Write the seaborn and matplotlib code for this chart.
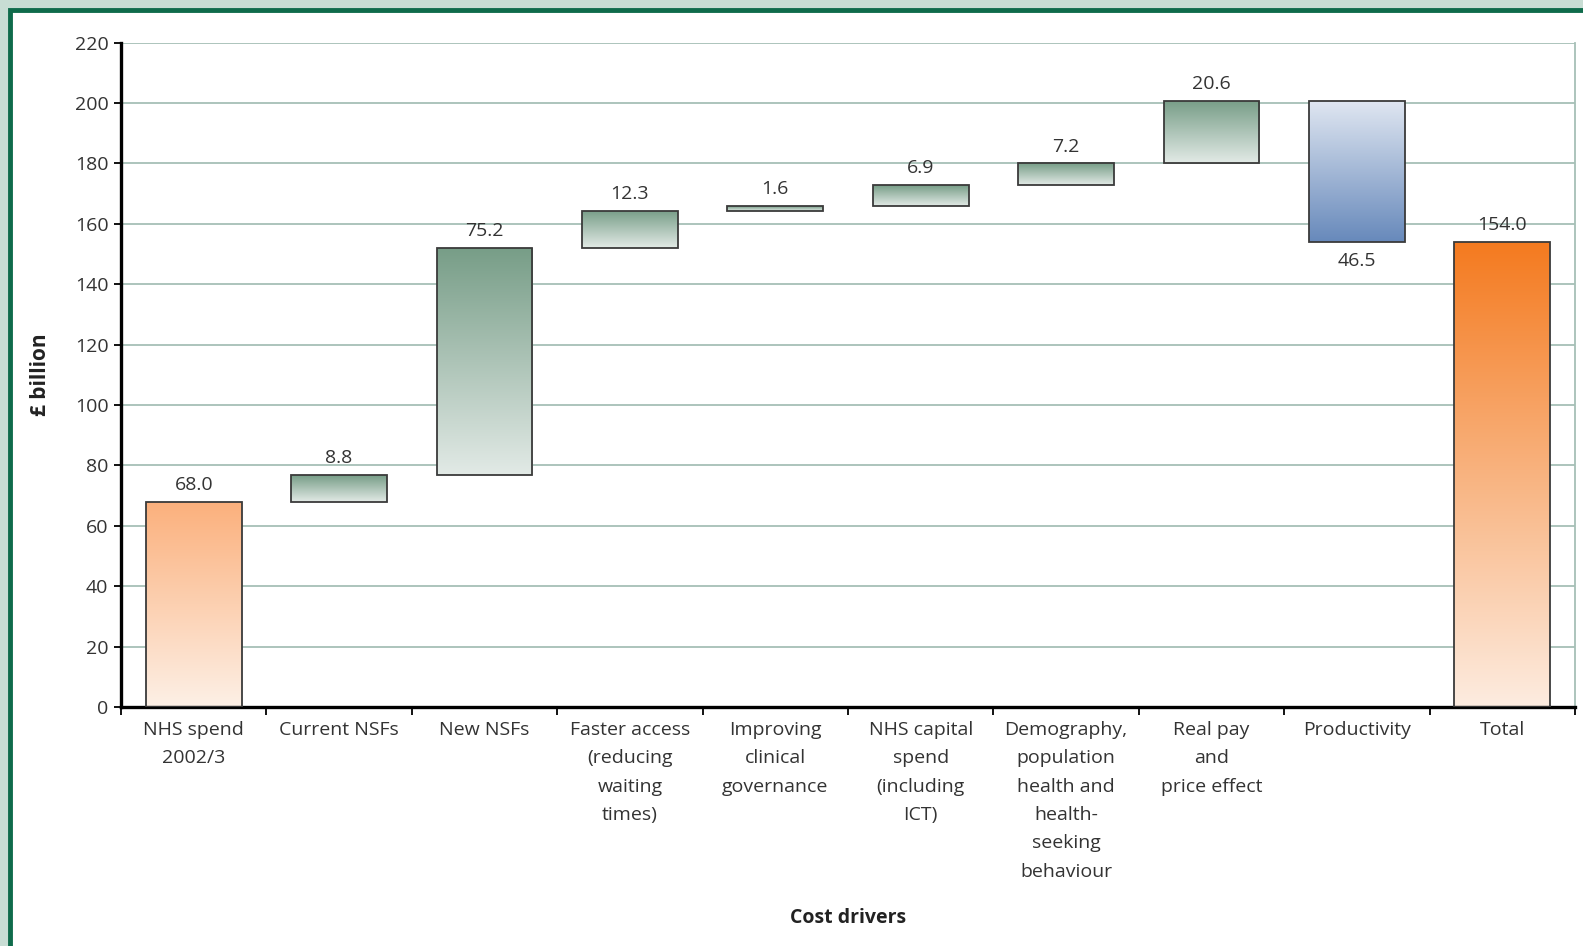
import numpy as np
import pandas as pd
import matplotlib
matplotlib.use("Agg")
import matplotlib.pyplot as plt
from matplotlib.patches import Rectangle
from matplotlib.colors import LinearSegmentedColormap
import seaborn as sns

# ---- data -------------------------------------------------------------
categories = [
    "NHS spend\n2002/3",
    "Current NSFs",
    "New NSFs",
    "Faster access\n(reducing\nwaiting\ntimes)",
    "Improving\nclinical\ngovernance",
    "NHS capital\nspend\n(including\nICT)",
    "Demography,\npopulation\nhealth and\nhealth-\nseeking\nbehaviour",
    "Real pay\nand\nprice effect",
    "Productivity",
    "Total",
]
start_value = 68.0
changes = [8.8, 75.2, 12.3, 1.6, 6.9, 7.2, 20.6, -46.5]
total_value = 154.0
y_ticks = list(range(0, 221, 20))

# ---- waterfall geometry ------------------------------------------------
bottoms, heights, kinds, labels = [0.0], [start_value], ["start"], [start_value]
running = start_value
for c in changes:
    if c >= 0:
        bottoms.append(running)
        heights.append(c)
        kinds.append("up")
    else:
        bottoms.append(running + c)
        heights.append(-c)
        kinds.append("down")
    labels.append(abs(c))
    running += c
bottoms.append(0.0)
heights.append(total_value)
kinds.append("total")
labels.append(total_value)

df = pd.DataFrame({"driver": categories, "height": heights,
                   "bottom": bottoms, "kind": kinds, "label": labels})

gradients = {
    "start": ("#fbb07c", "#fdf0e6"),
    "up": ("#779d87", "#e2eae6"),
    "down": ("#dfe6f1", "#6789bb"),
    "total": ("#f47a1f", "#fdece0"),
}

# ---- figure -----------------------------------------------------------
sns.set_theme(style="white")
plt.rcParams["font.family"] = ["Open Sans", "DejaVu Sans"]

fig = plt.figure(figsize=(15.83, 9.46), dpi=100)
fig.patch.set_facecolor("#c8ddd4")
W, H = 1583, 946
frame = Rectangle((10 / W, -0.1), 1.2, 1 - 10 / H + 0.1,
                  transform=fig.transFigure, facecolor="white",
                  edgecolor="#0f6b4b", linewidth=3.5, zorder=-5)
fig.patches.append(frame)

ax = fig.add_axes([121 / W, 1 - 707 / H, 1454 / W, 664.3 / H])
ax.set_facecolor("none")
ax.set_zorder(2)

sns.barplot(data=df, x="driver", y="height", order=categories, width=0.66,
            color="white", edgecolor="#3a3a3a", linewidth=1.3,
            errorbar=None, ax=ax, zorder=3)

ax.set_xlim(-0.5, len(categories) - 0.5)
ax.set_ylim(0, 220)

for patch, (_, row) in zip(ax.patches, df.iterrows()):
    patch.set_y(row["bottom"])
    patch.set_height(row["height"])
    top_c, bot_c = gradients[row["kind"]]
    cmap = LinearSegmentedColormap.from_list("g", [bot_c, top_c])
    x0 = patch.get_x()
    x1 = x0 + patch.get_width()
    grad = np.linspace(0, 1, 256).reshape(-1, 1)
    im = ax.imshow(grad, cmap=cmap, origin="lower", aspect="auto",
                   extent=[x0, x1, row["bottom"], row["bottom"] + row["height"]],
                   zorder=2.5, interpolation="bicubic")
    im.set_clip_path(patch)
    patch.set_facecolor("none")

    xc = x0 + patch.get_width() / 2
    if row["kind"] == "down":
        ax.text(xc, row["bottom"] - 3.5, f"{row['label']:.1f}", ha="center",
                va="top", fontsize=14, color="#333333")
    else:
        ax.text(xc, row["bottom"] + row["height"] + 2.6, f"{row['label']:.1f}",
                ha="center", va="bottom", fontsize=14, color="#333333")

ax.set_xlim(-0.5, len(categories) - 0.5)
ax.set_ylim(0, 220)

# grid and spines
ax.set_yticks(y_ticks)
ax.yaxis.grid(True, color="#a6bfb6", linewidth=1.3, zorder=1)
ax.xaxis.grid(False)
ax.set_axisbelow(True)
for side in ("left", "bottom"):
    ax.spines[side].set_color("black")
    ax.spines[side].set_linewidth(2.4)
ax.spines["top"].set_visible(False)
ax.spines["right"].set_color("#a6bfb6")
ax.spines["right"].set_linewidth(1.3)

ax.tick_params(axis="y", which="major", direction="out", length=5, width=1.3,
               color="black", left=True, labelsize=14, labelcolor="#333333",
               pad=4)
ax.set_xticks(np.arange(len(categories)))
ax.set_xticklabels(categories, linespacing=1.74)
ax.tick_params(axis="x", which="major", length=0, labelsize=14,
               labelcolor="#333333", pad=10)
ax.set_xticks(np.arange(-0.5, len(categories), 1.0), minor=True)
ax.tick_params(axis="x", which="minor", direction="out", length=6, width=1.3,
               color="black", bottom=True)

ax.set_xlabel("Cost drivers", fontsize=14, fontweight="bold", color="#222222")
ax.xaxis.label.set_va("center")
ax.xaxis.set_label_coords(0.5, -0.318)
ax.set_ylabel("£ billion", fontsize=15, fontweight="bold", color="#222222")
ax.yaxis.label.set_va("center")
ax.yaxis.set_label_coords(-0.0557, 0.5)

fig.savefig("out.png", dpi=100, facecolor=fig.get_facecolor())
